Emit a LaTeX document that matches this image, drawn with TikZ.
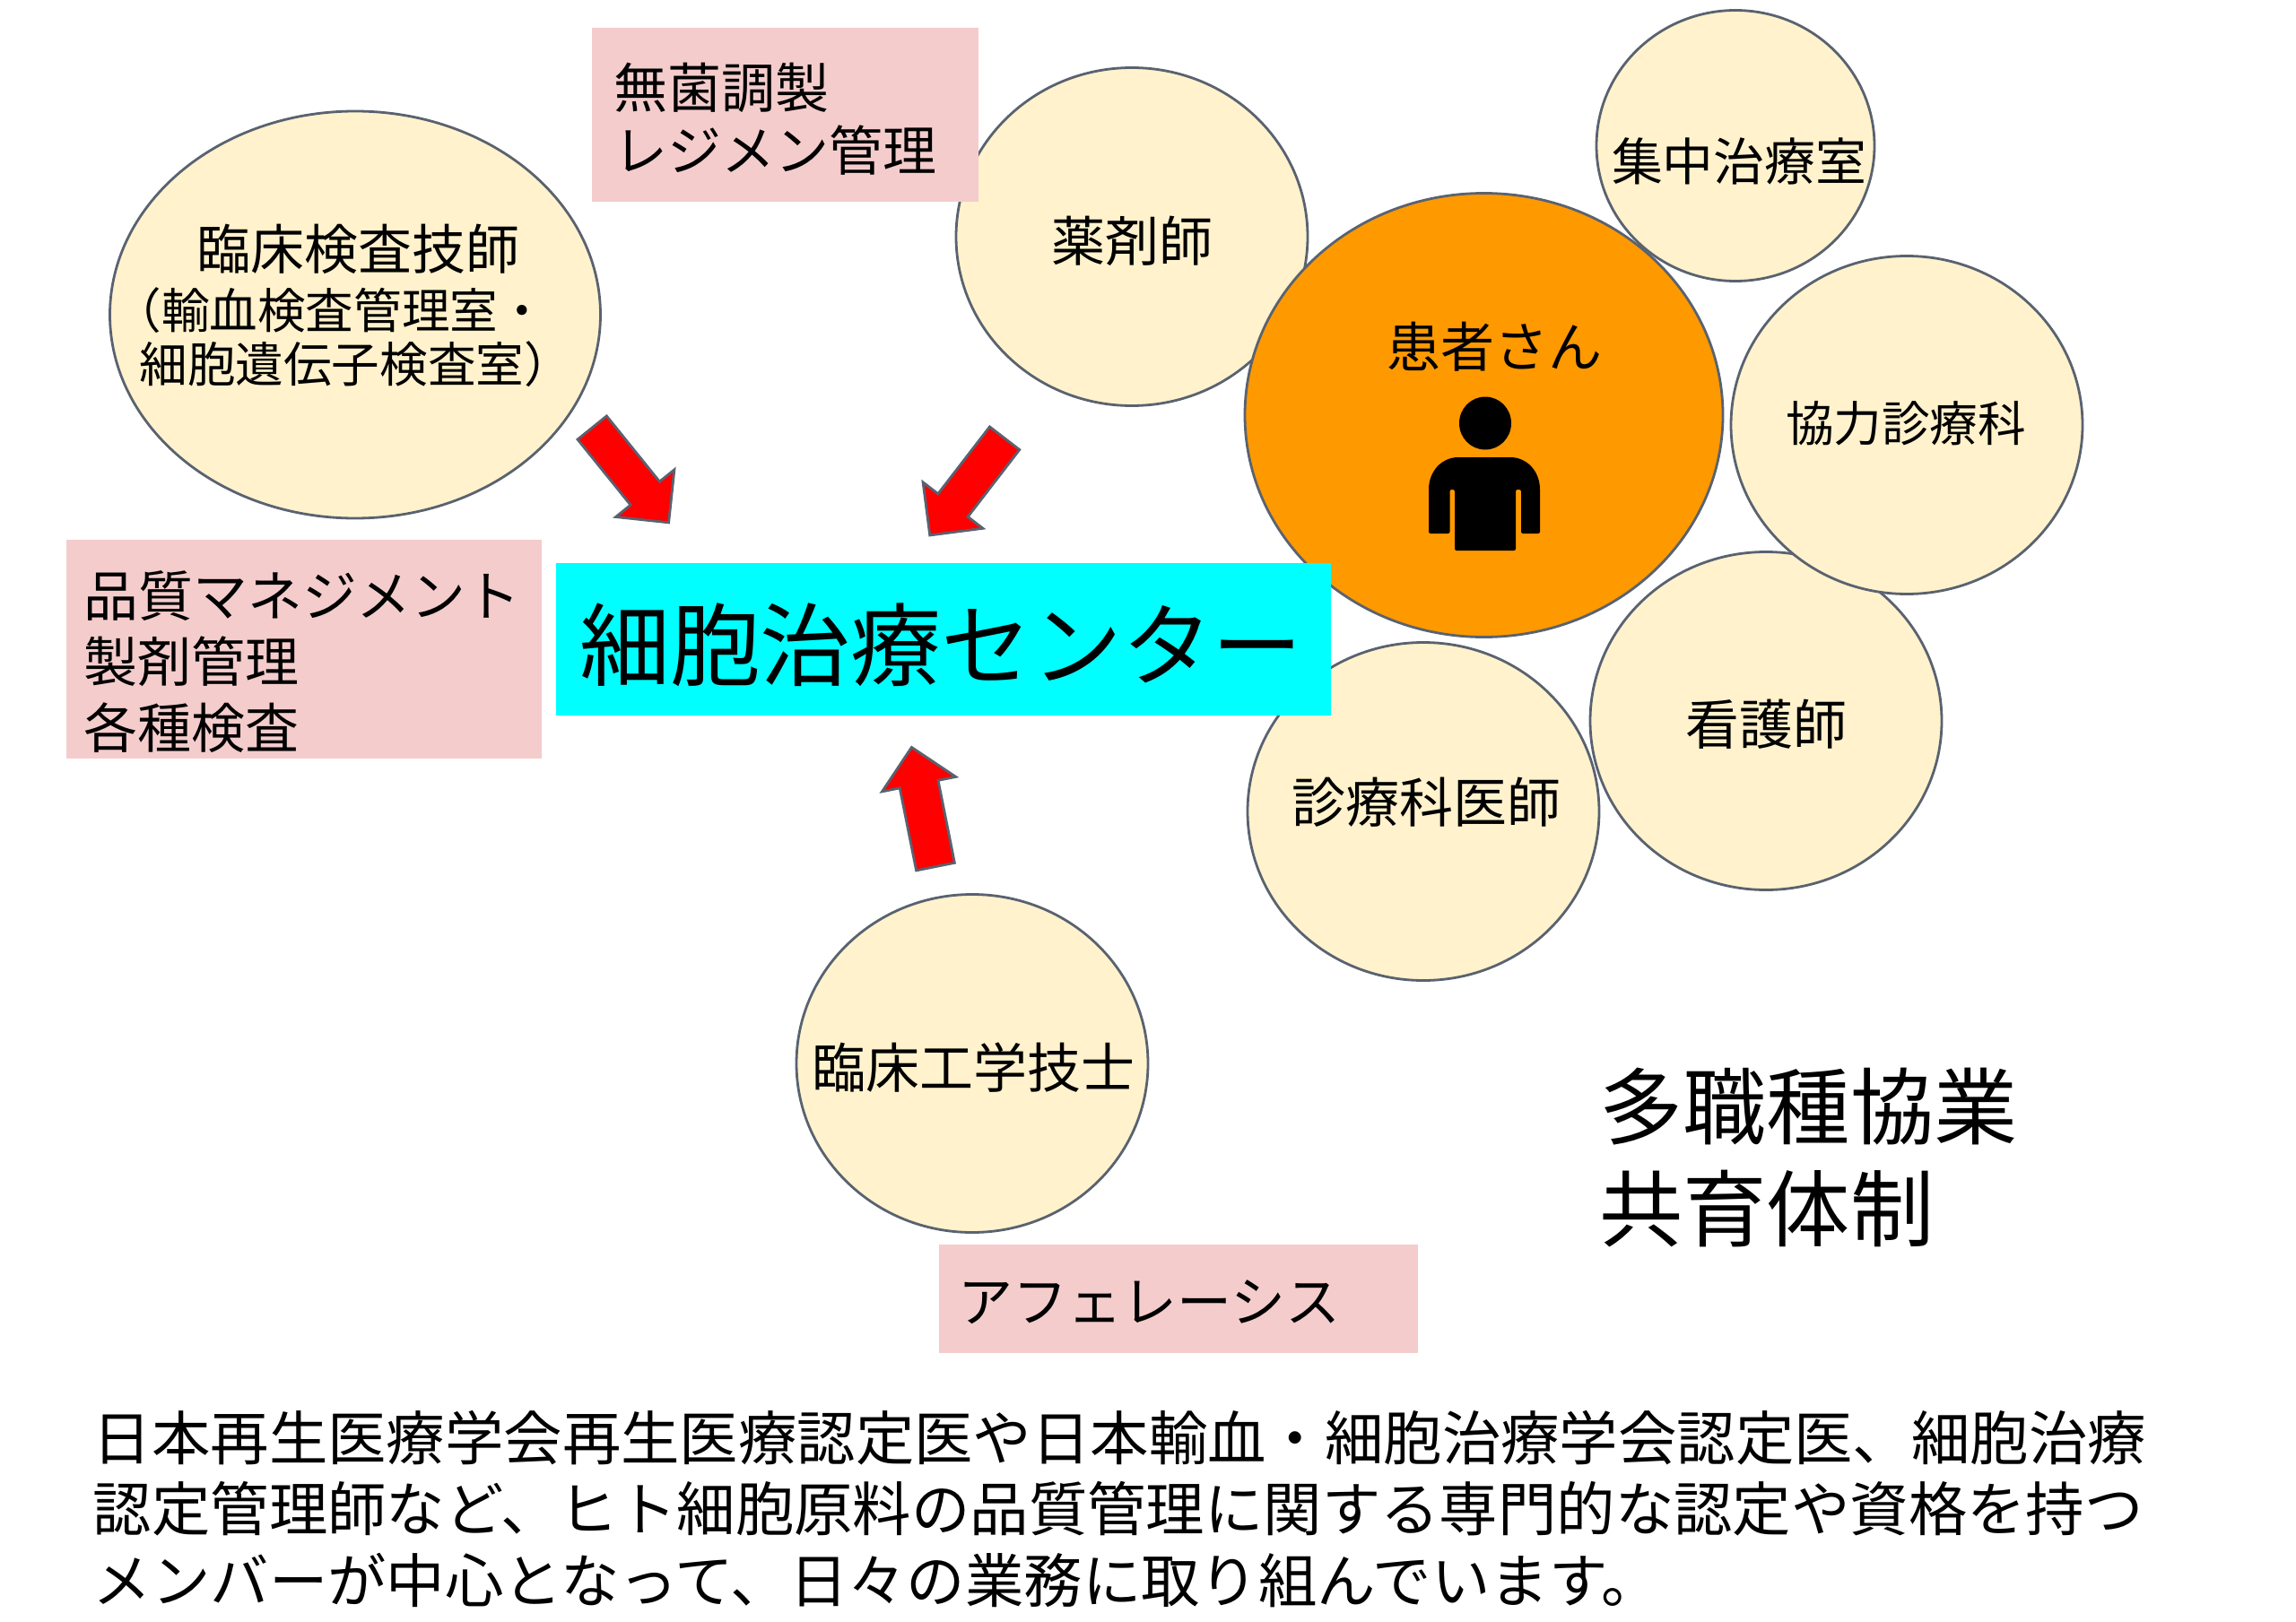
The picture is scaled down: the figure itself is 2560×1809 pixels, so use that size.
\documentclass[tikz,border=0pt]{standalone}
\usepackage{fontspec}
\setmainfont{Noto Sans CJK JP}
\usetikzlibrary{shapes.geometric,shapes.arrows}
\definecolor{creamfill}{HTML}{FFF2CC}
\definecolor{orangefill}{HTML}{FF9900}
\definecolor{pinkfill}{HTML}{F4CCCC}
\definecolor{cyanfill}{HTML}{00FFFF}
\definecolor{edgegray}{HTML}{596270}
\tikzset{
  staff/.style={ellipse, draw=edgegray, line width=1.4pt, fill=creamfill, inner sep=0pt, outer sep=0pt},
  notebox/.style={rectangle, fill=pinkfill, inner sep=0pt, outer sep=0pt},
  redarrow/.style={single arrow, anchor=tail, draw=edgegray, line width=1.4pt, fill=red, inner xsep=0pt, outer sep=0pt, single arrow tip angle=90},
  caption/.style={inner sep=0pt, font=\fontsize{30pt}{36.7pt}\selectfont},
  small/.style={inner sep=0pt, font=\fontsize{26.8pt}{30pt}\selectfont}
}
\begin{document}
\begin{tikzpicture}[x=0.5pt, y=-0.5pt]
  \useasboundingbox (0,0) rectangle (2560,1809);

  % Define circles
  \node[staff, minimum width=155pt, minimum height=151pt] (icu) at (1935,162.5) {};
  \node[staff, minimum width=196pt, minimum height=188.5pt] (doctor) at (1587,905) {};
  \node[staff, minimum width=196pt, minimum height=188.5pt] (nurse) at (1969,804) {};
  \node[staff, minimum width=196pt, minimum height=188.5pt] (dept) at (2126,474) {};
  \node[staff, minimum width=196pt, minimum height=188.5pt] (pharm) at (1262,264) {};
  \node[staff, minimum width=273.5pt, minimum height=227pt] (lab) at (396,351) {};
  \node[staff, minimum width=196pt, minimum height=188.5pt] (engineer) at (1084,1186) {};
  \node[staff, fill=orangefill, minimum width=266.5pt, minimum height=247.5pt] (patient) at (1654.5,463) {};

  % Define boxes
  \node[notebox, minimum width=215.5pt, minimum height=97pt] (prepbox) at (875.5,128) {};
  \node[notebox, minimum width=265pt, minimum height=122pt] (qualitybox) at (339,723.5) {};
  \node[notebox, minimum width=267pt, minimum height=60.5pt] (apheresisbox) at (1313.5,1448.5) {};
  \node[rectangle, fill=cyanfill, inner sep=0pt, minimum width=432pt, minimum height=85pt] (center) at (1052,713) {};

  % Patient figure
  \fill (1656,472) ellipse [x radius=29, y radius=29.5];
  \fill[rounded corners=1pt] (1593,595) -- (1593,548)
    .. controls (1593,525) and (1608,510) .. (1628,510) -- (1682,510)
    .. controls (1702,510) and (1717,525) .. (1717,548)
    -- (1717,595) -- (1696,595) -- (1696,546) -- (1690,546) -- (1690,614)
    -- (1622,614) -- (1622,546) -- (1616.5,546) -- (1616.5,595) -- cycle;

  % Connect with arrows
  \node[redarrow, rotate=-51.1, minimum height=68pt, inner ysep=9.7pt, single arrow head extend=10.6pt] (labarrow) at (660.2,477) {};
  \node[redarrow, rotate=-127.6, minimum height=68.3pt, inner ysep=9.8pt, single arrow head extend=10.6pt] (pharmarrow) at (1120.1,488.75) {};
  \node[redarrow, rotate=101.3, minimum height=67.9pt, inner ysep=10.2pt, single arrow head extend=10.1pt] (engineerarrow) at (1043,966.6) {};

  % Labels
  \node[caption] (labtitle) at (399,277.5) {臨床検査技師};
  \node[small, anchor=west, align=left] (labdetail) at (155,376) {\hspace*{-14.5pt}（輸血検査管理室・\\細胞遺伝子検査室）};
  \node[caption] (pharmtext) at (1262,269) {薬剤師};
  \node[caption, font=\fontsize{28.4pt}{34pt}\selectfont] (icutext) at (1939,180) {集中治療室};
  \node[caption] (patienttext) at (1666,387) {患者さん};
  \node[small] (depttext) at (2125,472) {協力診療科};
  \node[caption] (nursetext) at (1969,808) {看護師};
  \node[caption] (doctortext) at (1590,895) {診療科医師};
  \node[caption] (engineertext) at (1085,1190.5) {臨床工学技士};
  \node[caption, anchor=west, align=left, font=\fontsize{30pt}{35pt}\selectfont] (preptext) at (684,133) {無菌調製\\レジメン管理};
  \node[caption, anchor=west, align=left] (qualitytext) at (93.5,738) {{\fontsize{30.4pt}{36.7pt}\selectfont 品質マネジメント}\\製剤管理\\各種検査};
  \node[caption, anchor=west, font=\fontsize{30.5pt}{36pt}\selectfont] (apheresistext) at (1068,1452) {アフェレーシス};
  \node[caption, font=\fontsize{50.4pt}{60pt}\selectfont] (centertext) at (1049.5,719) {細胞治療センター};
  \node[caption, anchor=west, align=left, font=\fontsize{46.6pt}{57pt}\selectfont] (teamtext) at (1783,1291) {多職種協業\\共育体制};
  \node[caption, anchor=west, align=left, font=\fontsize{32.7pt}{39.6pt}\selectfont] (summary) at (103.5,1683) {日本再生医療学会再生医療認定医や日本輸血・細胞治療学会認定医、細胞治療\\認定管理師など、ヒト細胞原料の品質管理に関する専門的な認定や資格を持つ\\メンバーが中心となって、日々の業務に取り組んでいます。};
\end{tikzpicture}
\end{document}
